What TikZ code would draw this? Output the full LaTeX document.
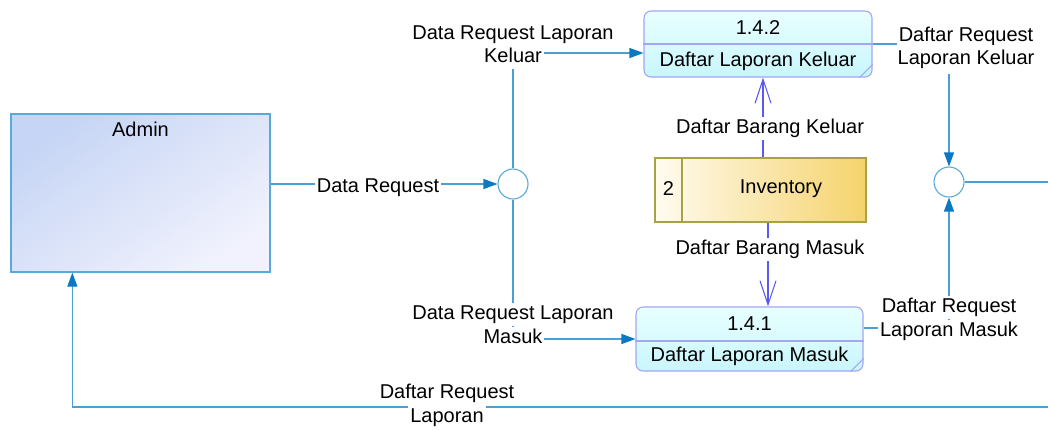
\documentclass[tikz,border=0pt]{standalone}
\usepackage{fontspec}
\setmainfont{Liberation Sans}
\usetikzlibrary{arrows.meta,calc}
\definecolor{flowline}{HTML}{4A9FD5}
\definecolor{flowtip}{HTML}{0B78C4}
\definecolor{storeflow}{HTML}{5A5AF0}
\definecolor{entityedge}{HTML}{5AAAD8}
\definecolor{entitytop}{HTML}{C6D5F5}
\definecolor{entitybot}{HTML}{F1F2FD}
\definecolor{procedge}{HTML}{A5A5F5}
\definecolor{proctop}{HTML}{E8FFFF}
\definecolor{procbot}{HTML}{C8F6FC}
\definecolor{storeedge}{HTML}{A9A245}
\definecolor{storeleft}{HTML}{FFFBF0}
\definecolor{storeright}{HTML}{F5D36C}
\tikzset{
  txt/.style={font=\fontsize{20}{24}\selectfont, inner sep=1.5pt, align=center},
  lbl/.style={txt, fill=white, text height=14.5pt, text depth=4.5pt, inner ysep=2pt, inner xsep=2pt},
  entity/.style={draw=entityedge, line width=1.3pt, top color=entitytop, bottom color=entitybot,
    shading angle=35, minimum width=259pt, minimum height=158pt, inner sep=0pt},
  procbox/.style={draw=procedge, line width=1.1pt, rounded corners=7pt, top color=proctop,
    bottom color=procbot, inner sep=0pt},
  storebox/.style={draw=storeedge, line width=1.1pt, left color=storeleft, right color=storeright,
    minimum width=211pt, minimum height=64pt, inner sep=0pt},
  junction/.style={circle, draw=entityedge, line width=1.1pt, fill=white, minimum size=30pt, inner sep=0pt},
  flow/.style={draw=flowline, line width=1.2pt, -{Triangle[length=14pt,width=10pt,color=flowtip,fill=flowtip]}},
  plain/.style={draw=flowline, line width=1.2pt},
  dflow/.style={draw=storeflow, line width=1.1pt, -{Straight Barb[length=24pt,width=16pt]}},
}
\begin{document}
\begin{tikzpicture}[x=1pt,y=-1pt]
\useasboundingbox (0,0) rectangle (1048,429);

% external entity
\node[entity] (admin) at (140.5,193) {};
\node[txt] (adminname) at (140.5,129) {Admin};

% processes
\node[procbox, minimum width=228pt, minimum height=66pt] (p142) at (758,44) {};
\draw[procedge, line width=1.1pt] (p142.west) -- (p142.east);
\draw[procedge, line width=0.9pt] ([yshift=13pt]p142.south east) -- ([xshift=-13pt]p142.south east);
\node[txt] (p142id) at (758,28) {1.4.2};
\node[txt] (p142name) at (758,61) {Daftar Laporan Keluar};

\node[procbox, minimum width=227pt, minimum height=64pt] (p141) at (749.5,339) {};
\draw[procedge, line width=1.1pt] ([yshift=-2pt]p141.west) -- ([yshift=-2pt]p141.east);
\draw[procedge, line width=0.9pt] ([yshift=13pt]p141.south east) -- ([xshift=-13pt]p141.south east);
\node[txt] (p141id) at (749.5,324) {1.4.1};
\node[txt] (p141name) at (749.5,356) {Daftar Laporan Masuk};

% data store
\node[storebox] (store) at (760.5,190) {};
\draw[storeedge, line width=1.1pt] (682,158) -- (682,222);
\node[txt] (storeid) at (668.5,189) {2};
\node[txt] (storename) at (781,189) {Inventory};

% junctions
\node[junction] (c1) at (513,184) {};
\node[junction] (c2) at (949,182) {};
\coordinate (outA) at (1048,182);
\coordinate (outB) at (1048,407);

% flows around the left junction
\draw[flow] (c1 -| admin.east) -- (c1.west);
\node[lbl] (l1) at (378,187) {Data Request};

\draw[flow] (c1.north) |- ([yshift=-9pt]p142.west);
\node[lbl] (l2a) at (513,34) {Data Request Laporan};
\node[lbl] (l2b) at (513,57) {Keluar};

\draw[flow] (c1.south) |- (p141.west);
\node[lbl] (l3a) at (513,314) {Data Request Laporan};
\node[lbl] (l3b) at (513,338) {Masuk};

% flows around the right junction
\draw[flow] (p142.east) -| (c2.north);
\node[lbl] (l4a) at (966,36) {Daftar Request};
\node[lbl, inner ysep=5pt] (l4b) at (966,59) {Laporan Keluar};

\draw[flow] ([yshift=11pt]p141.east) -| (c2.south);
\node[lbl] (l5a) at (949,307) {Daftar Request};
\node[lbl] (l5b) at (949,331) {Laporan Masuk};

\draw[plain] (c2.east) -- (outA);

% return flow to the entity
\draw[flow] (outB) -| ([xshift=62pt]admin.south west);
\node[lbl] (l6a) at (447,393) {Daftar Request};
\node[lbl] (l6b) at (447,417) {Laporan};

% data store flows
\draw[dflow] ([xshift=2.5pt]store.north) -- ([xshift=2.5pt]store.north |- p142.south);
\node[lbl] (l7) at (770,128) {Daftar Barang Keluar};

\draw[dflow] ([xshift=7.5pt]store.south) -- ([xshift=7.5pt]store.south |- p141.north);
\node[lbl] (l8) at (770,249) {Daftar Barang Masuk};
\end{tikzpicture}
\end{document}
